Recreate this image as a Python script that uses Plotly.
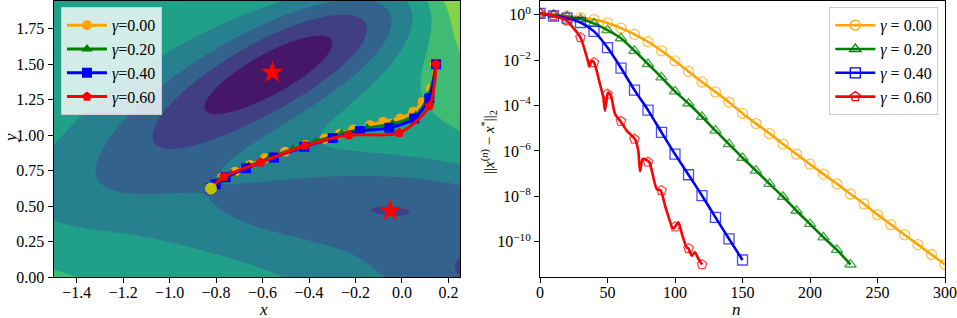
import numpy as np
import plotly.graph_objects as go
from plotly.colors import sample_colorscale

# ---------------- Left panel: Mueller-Brown potential field ----------------
MB_A = [-200, -100, -170, 15]
MB_a = [-1, -1, -6.5, 0.7]
MB_b = [0, 0, 11, 0.6]
MB_c = [-10, -10, -6.5, 0.7]
MB_X0 = [1, 0, -0.5, -1]
MB_Y0 = [0, 0.5, 1.5, 1]
LEVEL_START, LEVEL_END, LEVEL_STEP = -160, 160, 40

X_RANGE = [-1.5, 0.25]
Y_RANGE = [0.0, 1.945]

# paths (x, y) for each gamma
path_x_g000 = [-0.823, -0.775, -0.719, -0.654, -0.590, -0.503, -0.415, -0.331, -0.267,
               -0.209, -0.138, -0.080, -0.008, 0.049, 0.089, 0.124, 0.142]
path_y_g000 = [0.625, 0.700, 0.742, 0.789, 0.836, 0.883, 0.930, 0.975, 1.010,
               1.040, 1.070, 1.093, 1.117, 1.164, 1.234, 1.328, 1.500]
path_x_g020 = [-0.823, -0.790, -0.735, -0.660, -0.570, -0.470, -0.370, -0.260, -0.150,
               -0.040, 0.060, 0.115, 0.147]
path_y_g020 = [0.625, 0.675, 0.725, 0.780, 0.840, 0.900, 0.955, 1.010, 1.050,
               1.080, 1.140, 1.280, 1.500]
path_x_g040 = [-0.823, -0.802, -0.759, -0.671, -0.551, -0.420, -0.298, -0.181, -0.054,
               0.053, 0.118, 0.147]
path_y_g040 = [0.625, 0.654, 0.703, 0.766, 0.843, 0.918, 0.979, 1.028, 1.051,
               1.117, 1.258, 1.500]
path_x_g060 = [-0.823, -0.766, -0.608, -0.417, -0.228, -0.011, 0.118, 0.147]
path_y_g060 = [0.625, 0.707, 0.808, 0.925, 1.000, 1.016, 1.204, 1.500]

saddle_x = [-0.822]
saddle_y = [0.624]
minima_x = [-0.558, -0.050]
minima_y = [1.442, 0.467]

# ---------------- Right panel: convergence ----------------
n_g000 = list(range(0, 301, 10))
err_g000 = [1.15, 1.0, 0.89, 0.76, 0.62, 0.44, 0.26, 0.138, 0.065, 0.026,
            9.3e-3, 3.2e-3, 1.1e-3, 4.0e-4, 1.4e-4, 4.5e-5, 1.6e-5, 5.9e-6, 2.0e-6, 7.2e-7,
            2.6e-7, 9.5e-8, 3.5e-8, 1.26e-8, 4.6e-9, 1.55e-9, 5.6e-10, 2.0e-10, 7.4e-11, 2.7e-11,
            9.8e-12]
n_g020 = list(range(0, 231, 10))
err_g020 = [1.15, 1.0, 0.83, 0.65, 0.42, 0.21, 0.093, 0.026, 6.8e-3, 1.74e-3,
            4.2e-4, 1.23e-4, 3.2e-5, 7.8e-6, 2.0e-6, 5.0e-7, 1.35e-7, 3.5e-8, 9.5e-9, 2.3e-9,
            6.0e-10, 1.55e-10, 4.3e-11, 9.8e-12]
n_g040 = list(range(0, 151, 10))
err_g040 = [1.15, 0.89, 0.71, 0.46, 0.186, 0.036, 4.5e-3, 4.8e-4, 6.3e-5, 6.6e-6,
            7.2e-7, 8.9e-8, 1.07e-8, 1.17e-9, 1.32e-10, 1.55e-11]
n_g060 = list(range(0, 121, 10))
err_g060 = [1.15, 0.91, 0.55, 0.10, 7.9e-3, 3.2e-4, 2.0e-5, 3.3e-6, 3.2e-7, 1.8e-8,
            4.5e-10, 5.0e-11, 9.8e-12]
# full (per-iteration) curve of gamma=0.60, read at its turning points
line_n_g060 = [0, 10, 20, 25, 30, 33.3, 35.8, 36.5, 38.3, 40, 42, 44.4, 46.9, 48.1, 50, 50.6,
               52.5, 55.6, 59.7, 64.2, 70.4, 72.8, 74.1, 76, 78, 81, 86.4, 89.4, 93, 98.5,
               100, 102.5, 105.5, 108.6, 110, 112.3, 114.8, 117, 120]
line_err_g060 = [1.15, 0.91, 0.55, 0.25, 0.10, 0.026, 7.9e-3, 5.2e-3, 9.3e-3, 7.9e-3, 3.4e-3,
                 8.9e-4, 2.3e-4, 5.9e-5, 3.2e-4, 3.8e-4, 2.8e-4, 4.2e-5, 2.0e-5, 7.8e-6, 3.3e-6,
                 1.0e-6, 1.26e-7, 4.4e-7, 4.2e-7, 3.2e-7, 2.1e-8, 1.8e-8, 3.2e-9, 3.8e-10,
                 4.5e-10, 7.1e-10, 1.8e-10, 5.6e-11, 5.0e-11, 2.4e-11, 3.4e-11, 1.9e-11, 9.8e-12]

gamma_labels = ["0.00", "0.20", "0.40", "0.60"]
colors = ["orange", "green", "blue", "red"]
symbols = ["circle", "triangle-up", "square", "pentagon"]

R_Y_LOG_RANGE = [-11.56, 0.61]
R_Y_TICKVALS = [1, 1e-2, 1e-4, 1e-6, 1e-8, 1e-10]
R_Y_TICKTEXT = ["10<sup>0</sup>", "10<sup>−2</sup>", "10<sup>−4</sup>", "10<sup>−6</sup>",
                "10<sup>−8</sup>", "10<sup>−10</sup>"]

FONT = "Liberation Serif"

# ---------------- build ----------------
gx = np.linspace(X_RANGE[0], X_RANGE[1], 260)
gy = np.linspace(Y_RANGE[0], Y_RANGE[1], 260)
GX, GY = np.meshgrid(gx, gy)
Z = np.zeros_like(GX)
for A, a, b, c, x0, y0 in zip(MB_A, MB_a, MB_b, MB_c, MB_X0, MB_Y0):
    Z += A * np.exp(a * (GX - x0) ** 2 + b * (GX - x0) * (GY - y0) + c * (GY - y0) ** 2)

nb = int(round((LEVEL_END - LEVEL_START) / LEVEL_STEP))  # number of bands
band_cols = sample_colorscale("Viridis", [(j + 0.5) / nb for j in range(nb)])
nlev = nb + 1
cscale = [[0.0, band_cols[0]]]
for j in range(nb):
    cscale.append([(j + 1) / nlev, band_cols[j]])
cscale.append([1.0, band_cols[-1]])

fig = go.Figure()
fig.add_trace(go.Contour(
    x=gx, y=gy, z=Z, autocontour=False,
    contours=dict(start=LEVEL_START, end=LEVEL_END, size=LEVEL_STEP, coloring="fill"),
    colorscale=cscale, showscale=False, line=dict(width=0), hoverinfo="skip",
    xaxis="x", yaxis="y", showlegend=False))

paths = [(path_x_g000, path_y_g000), (path_x_g020, path_y_g020),
         (path_x_g040, path_y_g040), (path_x_g060, path_y_g060)]
for (px_, py_), lab, col, sym in zip(paths, gamma_labels, colors, symbols):
    fig.add_trace(go.Scatter(
        x=px_, y=py_, mode="lines+markers", name=f"<i>γ</i>=" + lab,
        line=dict(color=col, width=3, shape="spline", smoothing=0.8),
        marker=dict(color=col, symbol=sym, size=10, line=dict(width=0)),
        xaxis="x", yaxis="y", legend="legend"))

fig.add_trace(go.Scatter(x=saddle_x, y=saddle_y, mode="markers",
                         marker=dict(color="#bfbf00", size=12, line=dict(width=0)),
                         showlegend=False, xaxis="x", yaxis="y"))
fig.add_trace(go.Scatter(x=minima_x, y=minima_y, mode="markers",
                         marker=dict(color="red", symbol="star", size=17, line=dict(width=0)),
                         showlegend=False, xaxis="x", yaxis="y"))

# right panel
series = [(n_g000, err_g000, n_g000, err_g000),
          (n_g020, err_g020, n_g020, err_g020),
          (n_g040, err_g040, n_g040, err_g040),
          (line_n_g060, line_err_g060, n_g060, err_g060)]
for (ln, le, mn, me), lab, col, sym in zip(series, gamma_labels, colors, symbols):
    fig.add_trace(go.Scatter(x=ln, y=le, mode="lines",
                             line=dict(color=col, width=2.6, shape="spline", smoothing=0.6),
                             showlegend=False, xaxis="x2", yaxis="y2", hoverinfo="skip"))
    fig.add_trace(go.Scatter(x=mn, y=me, mode="markers",
                             marker=dict(symbol=sym + "-open", size=10, color=col, opacity=0.7,
                                         line=dict(width=1.3, color=col)),
                             showlegend=False, xaxis="x2", yaxis="y2"))
    fig.add_trace(go.Scatter(x=[None], y=[None], mode="lines+markers",
                             name=f"<i>γ</i> = " + lab,
                             line=dict(color=col, width=2.6),
                             marker=dict(symbol=sym + "-open", size=10, color=col,
                                         line=dict(width=1.3, color=col)),
                             xaxis="x2", yaxis="y2", legend="legend2"))

W, H = 957, 318
ML, MR, MT, MB = 0, 0, 1, 41
ph = H - MT - MB

def px2paper_x(p):
    return p / W

def py2paper_y(p):
    return (H - MB - p) / ph

ax_common = dict(showline=True, linecolor="black", linewidth=1, mirror=True,
                 ticks="outside", ticklen=5, tickwidth=1, tickcolor="black",
                 showgrid=False, zeroline=False, automargin=False,
                 tickfont=dict(family=FONT, size=16, color="black"))

fig.update_layout(
    width=W, height=H, margin=dict(l=ML, r=MR, t=MT, b=MB),
    paper_bgcolor="white", plot_bgcolor="white",
    font=dict(family=FONT, size=16, color="black"),
    xaxis=dict(domain=[px2paper_x(53.5), px2paper_x(460)], range=X_RANGE,
               tickvals=[-1.4, -1.2, -1.0, -0.8, -0.6, -0.4, -0.2, 0.0, 0.2],
               tickformat=".1f", anchor="y", ticklabelstandoff=-4, **ax_common),
    yaxis=dict(range=Y_RANGE, tickvals=[0, 0.25, 0.5, 0.75, 1.0, 1.25, 1.5, 1.75],
               tickformat=".2f", anchor="x", **ax_common),
    xaxis2=dict(domain=[px2paper_x(540), px2paper_x(945)], range=[0, 300],
                tickvals=[0, 50, 100, 150, 200, 250, 300], anchor="y2",
                ticklabelstandoff=-4, **ax_common),
    yaxis2=dict(type="log", range=R_Y_LOG_RANGE, tickvals=R_Y_TICKVALS,
                ticktext=R_Y_TICKTEXT, anchor="x2", **ax_common),
    legend=dict(x=px2paper_x(61), y=py2paper_y(7.3), xanchor="left", yanchor="top",
                bgcolor="rgba(255,255,255,0.8)", bordercolor="#cccccc", borderwidth=1,
                font=dict(family=FONT, size=16), itemwidth=40, tracegroupgap=0),
    legend2=dict(x=px2paper_x(829.3), y=py2paper_y(7.3), xanchor="left", yanchor="top",
                 bgcolor="rgba(255,255,255,0.8)", bordercolor="#cccccc", borderwidth=1,
                 font=dict(family=FONT, size=16), itemwidth=40, tracegroupgap=0),
    showlegend=True,
)

ann_font = dict(family=FONT, size=17, color="black")
fig.add_annotation(text="<i>x</i>", x=px2paper_x(256.7), y=py2paper_y(309), xref="paper",
                   yref="paper", showarrow=False, font=ann_font, yanchor="middle")
fig.add_annotation(text="<i>y</i>", x=px2paper_x(10), y=py2paper_y(138), xref="paper",
                   yref="paper", showarrow=False, font=ann_font, textangle=-90,
                   xanchor="center", yanchor="middle")
fig.add_annotation(text="<i>n</i>", x=px2paper_x(742.5), y=py2paper_y(309), xref="paper",
                   yref="paper", showarrow=False, font=ann_font, yanchor="middle")
fig.add_annotation(text="||<i>x</i><sup>(<i>n</i>)</sup> − <i>x</i><sup>*</sup>||<sub>2</sub>",
                   x=px2paper_x(489), y=py2paper_y(142), xref="paper", yref="paper",
                   showarrow=False, font=dict(family=FONT, size=15, color="black"),
                   textangle=-90, xanchor="center", yanchor="middle")

fig.write_html("out.html", config={"displayModeBar": False},
               post_script="document.body.style.margin='0';document.body.style.overflow='hidden';")
